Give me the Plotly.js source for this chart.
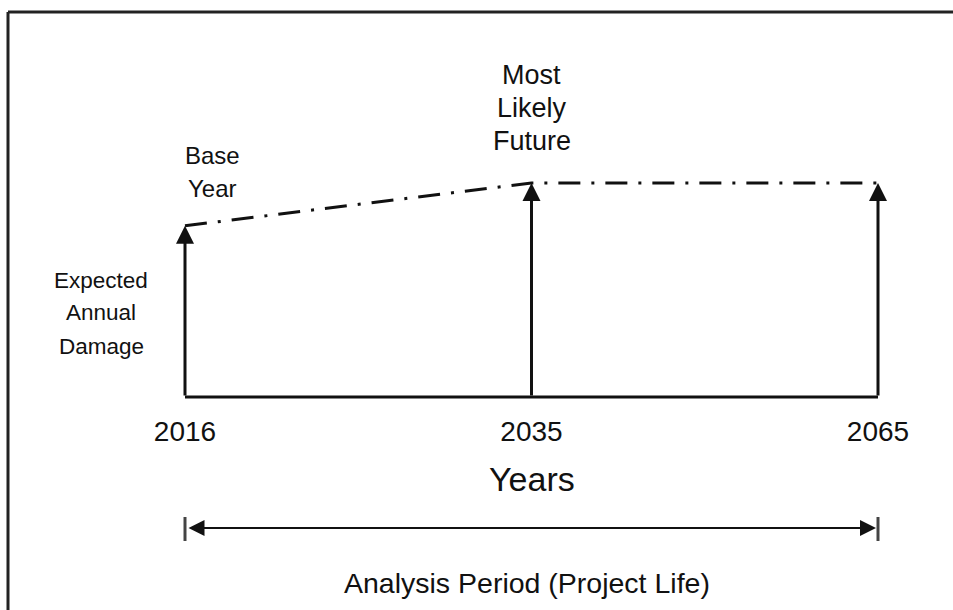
<!DOCTYPE html>
<html>
<head>
<meta charset="utf-8">
<script src="https://cdn.plot.ly/plotly-3.0.1.min.js"></script>
<style>html,body{margin:0;padding:0;background:#fff;}#chart{width:953px;height:610px;}</style>
</head>
<body>
<div id="chart"></div>
<script>
// ---- data ----
const categories = [0, 1, 2];
const tickLabels = ['2016', '2035', '2065'];
const eadValues = [0.8, 1.0, 1.0];   // relative expected annual damage
const baseLabelLines = ['Base', 'Year'];
const futureLabelLines = ['Most', 'Likely', 'Future'];
const yLabelLines = ['Expected', 'Annual', 'Damage'];
const xAxisLabel = 'Years';
const periodLabel = 'Analysis Period (Project Life)';

// ---- layout helpers (pixel -> paper) ----
const W = 953, H = 610;
const px = v => v / W;
const py = v => 1 - v / H;
const FONT = '"Liberation Sans", Arial, Helvetica, sans-serif';
const INK = '#111';

// axis ranges chosen so category 0 sits at 185px, category 2 at 878px,
// value 0 at 397px and value 1 at 183px
const xPerUnit = (878 - 185) / 2;
const xRange = [-185 / xPerUnit, 2 + (W - 878) / xPerUnit];
const yPerUnit = 397 - 183;
const yRange = [-(H - 397) / yPerUnit, 397 / yPerUnit];

const traces = [{
  x: categories,
  y: eadValues,
  mode: 'lines',
  line: {color: INK, width: 3, dash: '22px,11px,3px,11px'},
  hoverinfo: 'skip',
  showlegend: false
}];

const annotations = [];
// vertical arrows
categories.forEach((c, i) => {
  annotations.push({
    x: c, y: eadValues[i], xref: 'x', yref: 'y',
    ax: c, ay: 0, axref: 'x', ayref: 'y',
    showarrow: true, arrowhead: 2, arrowsize: 1.2, arrowwidth: 3,
    arrowcolor: INK, text: '', standoff: 0
  });
});

function textLines(lines, x, xref, firstY, step, size, xanchor, xshift) {
  lines.forEach((t, i) => {
    annotations.push({
      x: x, xref: xref, y: py(firstY + i * step), yref: 'paper',
      text: t, showarrow: false, xanchor: xanchor, yanchor: 'middle',
      xshift: xshift || 0,
      font: {family: FONT, size: size, color: INK}
    });
  });
}
textLines(baseLabelLines, categories[0] + 27 / xPerUnit, 'x', 156, 33, 24, 'center');
textLines(futureLabelLines, categories[1], 'x', 75, 33, 27, 'center');
textLines(yLabelLines, px(101), 'paper', 280, 33, 22.5, 'center');
textLines([xAxisLabel], categories[1], 'x', 479, 0, 34, 'center');

// analysis period double arrow
annotations.push({
  x: categories[2], y: py(528), xref: 'x', yref: 'paper',
  ax: categories[0], ay: py(528), axref: 'x', ayref: 'paper',
  showarrow: true, arrowside: 'end+start', arrowhead: 2, startarrowhead: 2,
  arrowsize: 1.6, startarrowsize: 1.6, arrowwidth: 2, arrowcolor: INK,
  standoff: 2, startstandoff: 2, text: ''
});
textLines([periodLabel], categories[1], 'x', 583, 0, 28.5, 'center', -5);

const shapes = [
  // baseline
  {type: 'line', xref: 'x', yref: 'y', x0: categories[0], x1: categories[2], y0: 0, y1: 0,
   line: {color: INK, width: 3}},
  // analysis period end bars
  {type: 'line', xref: 'x', yref: 'paper', x0: categories[0], x1: categories[0], y0: py(517), y1: py(541),
   line: {color: '#444', width: 3}},
  {type: 'line', xref: 'x', yref: 'paper', x0: categories[2], x1: categories[2], y0: py(517), y1: py(541),
   line: {color: '#444', width: 3}},
  // frame
  {type: 'line', xref: 'paper', yref: 'paper', x0: px(8), x1: 1.02, y0: py(12), y1: py(12),
   line: {color: '#222', width: 3}},
  {type: 'line', xref: 'paper', yref: 'paper', x0: px(8), x1: px(8), y0: py(12), y1: -0.02,
   line: {color: '#222', width: 3}}
];

const layout = {
  width: W, height: H,
  margin: {l: 0, r: 0, t: 0, b: 0},
  paper_bgcolor: '#fff', plot_bgcolor: '#fff',
  showlegend: false,
  xaxis: {
    range: xRange, fixedrange: true,
    tickmode: 'array', tickvals: categories, ticktext: tickLabels,
    ticks: '', showline: false, showgrid: false, zeroline: false,
    anchor: 'free', position: py(412),
    tickfont: {family: FONT, size: 28, color: INK}
  },
  yaxis: {range: yRange, visible: false, fixedrange: true},
  annotations: annotations,
  shapes: shapes
};

Plotly.newPlot('chart', traces, layout, {staticPlot: true, displayModeBar: false});
</script>
</body>
</html>
